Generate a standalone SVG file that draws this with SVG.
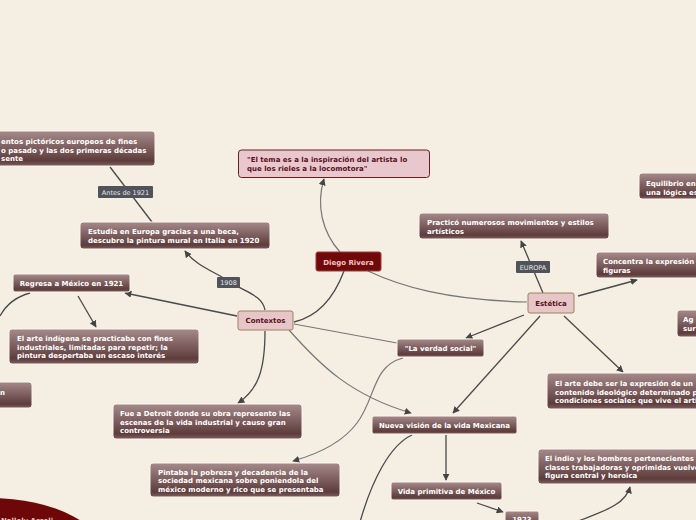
<svg xmlns="http://www.w3.org/2000/svg" width="696" height="520" viewBox="0 0 696 520">
<defs>
<linearGradient id="g" x1="0" y1="0" x2="0" y2="1">
<stop offset="0" stop-color="#a68a8a"/>
<stop offset="0.85" stop-color="#5e3c3c"/>
<stop offset="1" stop-color="#7e5e5e"/>
</linearGradient>
<marker id="a" viewBox="0 0 10 10" refX="9" refY="5" markerWidth="7" markerHeight="7" orient="auto" markerUnits="userSpaceOnUse">
<path d="M0,0 L10,5 L0,10 z" fill="#444"/>
</marker>
<style>
.n{fill:url(#g);stroke:#fbf6f0;stroke-width:1}
.p{fill:#e8c8cc;stroke:#6a1c24;stroke-width:1}
.pb{fill:#e6c6c6;stroke:#a08060;stroke-width:1}
.t{font-family:"DejaVu Sans",Verdana,sans-serif;font-weight:bold;font-size:7px;fill:#fff}
.tp{font-family:"DejaVu Sans",Verdana,sans-serif;font-weight:bold;font-size:7px;fill:#5a0f1e}
.lb{fill:#50545a}
.lt{font-family:"DejaVu Sans",Verdana,sans-serif;font-size:6.5px;fill:#e8e8e8}
.c{fill:none;stroke:#4a4a4a;stroke-width:1.3}
.cl{fill:none;stroke:#777;stroke-width:1.2}
.m{text-anchor:middle}
</style>
</defs>
<rect width="696" height="520" fill="#f4eee3"/>
<g id="connectors">
<path class="c" d="M110,167 L152,222"/>
<path class="c" d="M265,310 C262,295 245,292 232,283 C215,272 195,265 185,251" marker-end="url(#a)"/>
<path class="cl" d="M340,252 C322,232 316,205 324,179" marker-end="url(#a)"/>
<path class="c" d="M344,271 C335,295 320,316 294,322"/>
<path class="cl" d="M368,271 C400,286 445,300 527,302" stroke-width="1.6"/>
<path class="c" d="M543,293 L521,241" marker-end="url(#a)"/>
<path class="c" d="M578,296 L637,280" marker-end="url(#a)"/>
<path class="c" d="M564,316 L623,372" marker-end="url(#a)"/>
<path class="c" d="M524,315 L466,338" marker-end="url(#a)"/>
<path class="c" d="M540,316 L453,413" marker-end="url(#a)"/>
<path class="cl" d="M294,324 L397,343"/>
<path class="cl" d="M289,330 C320,365 350,395 411,413" marker-end="url(#a)"/>
<path class="c" d="M237,316 L125,293" marker-end="url(#a)"/>
<path class="c" d="M30,293 C15,297 6,305 0,316"/>
<path class="c" d="M78,296 L96,327" marker-end="url(#a)"/>
<path class="c" d="M265,331 C265,370 258,390 238,403" marker-end="url(#a)"/>
<path class="cl" d="M403,358 C372,366 376,398 357,423 C342,443 318,454 293,461" marker-end="url(#a)"/>
<path class="c" d="M446,435 L446,480" marker-end="url(#a)"/>
<path class="c" d="M477,503 L503,512" marker-end="url(#a)"/>
<path class="c" d="M412,435 C390,445 372,480 360,522"/>
<path class="c" d="M576,522 C600,512 625,506 630,487" marker-end="url(#a)"/>
<rect class="lb" x="98" y="186" width="55" height="12" rx="1"/>
<text class="lt m" x="125.5" y="194.5">Antes de 1921</text>
<rect class="lb" x="217" y="277" width="23" height="11" rx="1"/>
<text class="lt m" x="228.5" y="285">1908</text>
<rect class="lb" x="516" y="261" width="34" height="12" rx="1"/>
<text class="lt m" x="533" y="269.5">EUROPA</text>
</g>
<g id="n-movimientos">
<rect class="n" x="-10" y="131" width="165" height="35" rx="3"/>
<text class="t" x="1" y="143.5">entos pictóricos europeos de fines</text>
<text class="t" x="1" y="152.5">o pasado y las dos primeras décadas</text>
<text class="t" x="1" y="161">sente</text>
</g>
<g id="n-estudia">
<rect class="n" x="80" y="222" width="190" height="27" rx="3"/>
<text class="t" x="88" y="234">Estudia en Europa gracias a una beca,</text>
<text class="t" x="88" y="243">descubre la pintura mural en Italia en 1920</text>
</g>
<g id="n-quote">
<rect class="p" x="238.5" y="150" width="191" height="27.5" rx="3"/>
<text class="tp" x="247" y="162">"El tema es a la inspiración del artista lo</text>
<text class="tp" x="247" y="171">que los rieles a la locomotora"</text>
</g>
<g id="n-diego">
<rect x="316" y="252" width="65" height="19" rx="2" fill="#700a0a" stroke="#a03a3a" stroke-width="1"/>
<text class="t m" x="348.5" y="264.5" style="fill:#f0c4c4">Diego Rivera</text>
</g>
<g id="n-practico">
<rect class="n" x="419" y="213" width="190" height="26" rx="3"/>
<text class="t" x="427" y="225">Practicó numerosos movimientos y estilos</text>
<text class="t" x="427" y="234">artísticos</text>
</g>
<g id="n-estetica">
<rect class="pb" x="528" y="293" width="46" height="20" rx="2"/>
<text class="tp m" x="551" y="305.5">Estética</text>
</g>
<g id="n-equilibrio">
<rect class="n" x="639" y="173" width="70" height="26" rx="3"/>
<text class="t" x="646" y="186">Equilibrio en</text>
<text class="t" x="646" y="195">una lógica es</text>
</g>
<g id="n-concentra">
<rect class="n" x="596" y="252" width="110" height="26" rx="3"/>
<text class="t" x="603" y="264">Concentra la expresión</text>
<text class="t" x="603" y="273">figuras</text>
</g>
<g id="n-ag">
<rect class="n" x="677" y="310" width="30" height="27" rx="3"/>
<text class="t" x="683" y="322">Ag</text>
<text class="t" x="683" y="331">sur</text>
</g>
<g id="n-elarte">
<rect class="n" x="547" y="373" width="160" height="36" rx="3"/>
<text class="t" x="555" y="386">El arte debe ser la expresión de un</text>
<text class="t" x="555" y="394.5">contenido ideológico determinado p</text>
<text class="t" x="555" y="403">condiciones sociales que vive el arti</text>
</g>
<g id="n-verdad">
<rect class="n" x="397" y="339" width="87" height="18" rx="2"/>
<text class="t m" x="440.5" y="350.5">"La verdad social"</text>
</g>
<g id="n-contextos">
<rect class="pb" x="238" y="311" width="55" height="19" rx="2"/>
<text class="tp m" x="265.5" y="323">Contextos</text>
</g>
<g id="n-regresa">
<rect class="n" x="13" y="274" width="117" height="18" rx="2"/>
<text class="t m" x="71.5" y="285.5">Regresa a México en 1921</text>
</g>
<g id="n-indigena">
<rect class="n" x="9" y="329" width="190" height="35" rx="3"/>
<text class="t" x="17" y="341">El arte indígena se practicaba con fines</text>
<text class="t" x="17" y="349.5">industriales, limitadas para repetir; la</text>
<text class="t" x="17" y="358">pintura despertaba un escaso interés</text>
</g>
<g id="n-left">
<rect class="n" x="-10" y="382" width="42" height="26" rx="3"/>
<text class="t" x="0" y="395">n</text>
</g>
<g id="n-detroit">
<rect class="n" x="113" y="404" width="189" height="35" rx="3"/>
<text class="t" x="120" y="416">Fue a Detroit donde su obra represento las</text>
<text class="t" x="120" y="424.5">escenas de la vida industrial y causo gran</text>
<text class="t" x="120" y="433">controversia</text>
</g>
<g id="n-nueva">
<rect class="n" x="372" y="416" width="145" height="18" rx="2"/>
<text class="t m" x="444.5" y="427.5">Nueva visión de la vida Mexicana</text>
</g>
<g id="n-pintaba">
<rect class="n" x="150" y="463" width="190" height="34" rx="3"/>
<text class="t" x="158" y="474.5">Pintaba la pobreza y decadencia de la</text>
<text class="t" x="158" y="483">sociedad mexicana sobre poniendola del</text>
<text class="t" x="158" y="491.5">méxico moderno y rico que se presentaba</text>
</g>
<g id="n-vida">
<rect class="n" x="391" y="482" width="111" height="18" rx="2"/>
<text class="t m" x="446.5" y="493.5">Vida primitiva de México</text>
</g>
<g id="n-1923">
<rect class="n" x="505" y="511" width="34" height="18" rx="2"/>
<text class="t m" x="522" y="522">1923</text>
</g>
<g id="n-indio">
<rect class="n" x="538" y="449" width="170" height="35" rx="3"/>
<text class="t" x="545" y="461">El indio y los hombres pertenecientes a</text>
<text class="t" x="545" y="469.5">clases trabajadoras y oprimidas vuelve</text>
<text class="t" x="545" y="478">figura central y heroica</text>
</g>
<g id="n-nallely">
<ellipse cx="-10" cy="561" rx="118" ry="63" fill="#6e0808"/>
<text class="t" x="1" y="523" style="fill:#f0c4c4">Nallely Arceli</text>
</g>
</svg>
